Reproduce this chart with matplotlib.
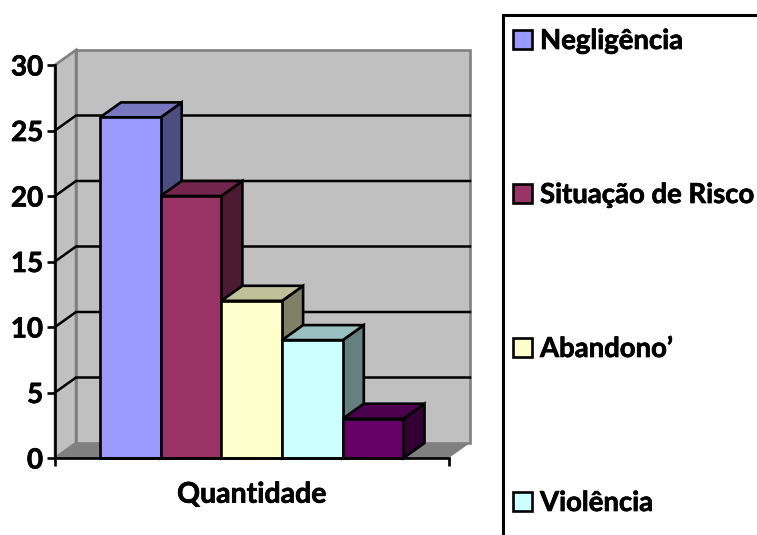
import matplotlib
matplotlib.use("Agg")
import matplotlib.pyplot as plt
import matplotlib.patheffects as pe
from matplotlib.patches import Polygon, Rectangle

series_names = ["Negligência", "Situação de Risco", "Abandono’", "Violência", ""]
values = [26, 20, 12, 9, 3]
front_colors = ["#9999FF", "#993366", "#FFFFCC", "#CCFFFF", "#660066"]
top_colors = ["#7777C0", "#73264D", "#C0C099", "#99C0C0", "#4D004D"]
side_colors = ["#4D4D80", "#4D1A33", "#808066", "#668080", "#330033"]
category = "Quantidade"
y_ticks = [0, 5, 10, 15, 20, 25, 30]
legend_names = series_names[:4]
legend_colors = front_colors[:4]

W, H = 757, 535
plt.rcParams["font.family"] = ["Lato", "DejaVu Sans"]
plt.rcParams["font.weight"] = "bold"
fig = plt.figure(figsize=(W / 100, H / 100), dpi=100, facecolor="white")
heavy = [pe.withStroke(linewidth=0.5, foreground="black")]

L, R, B, T = 55, 449, 458, 65
ax = fig.add_axes([L / W, 1 - B / H, (R - L) / W, (B - T) / H])
bar_w_px = 60.7
x0 = -(100 - L) / bar_w_px
ax.set_xlim(x0, x0 + (R - L) / bar_w_px)
ax.set_ylim(0, 30)
ax.patch.set_visible(False)
for s in ["top", "right"]:
    ax.spines[s].set_visible(False)
for s in ["left", "bottom"]:
    ax.spines[s].set_linewidth(1.9)
    ax.spines[s].set_zorder(8)

ddx = 21 / bar_w_px
ddy = 15 / ((B - T) / 30)
xa, xb = ax.get_xlim()
GRAY = "#808080"
WALL = "#C0C0C0"

def poly(pts, fc, ec="none", lw=0, z=1):
    ax.add_patch(Polygon(pts, closed=True, fc=fc, ec=ec, lw=lw, zorder=z,
                         clip_on=False, joinstyle="miter"))

# walls and floor
poly([(xa + ddx, ddy), (xb + ddx, ddy), (xb + ddx, 30 + ddy), (xa + ddx, 30 + ddy)], WALL, GRAY, 1.9)
poly([(xa, 0), (xa + ddx, ddy), (xa + ddx, 30 + ddy), (xa, 30)], WALL, GRAY, 1.9)
poly([(xa, 0), (xb, 0), (xb + ddx, ddy), (xa + ddx, ddy)], GRAY)

# gridlines
for v in y_ticks[1:-1]:
    ax.plot([xa, xa + ddx, xb + ddx], [v, v + ddy, v + ddy], color="black", lw=1.8,
            clip_on=False, zorder=2, solid_joinstyle="miter")

# 3D bars
for i, (v, f, t, s) in enumerate(zip(values, front_colors, top_colors, side_colors)):
    z = 3 + i * 0.1
    poly([(i + 1, 0), (i + 1 + ddx, ddy), (i + 1 + ddx, v + ddy), (i + 1, v)], s, "black", 1.9, z)
    poly([(i, v), (i + 1, v), (i + 1 + ddx, v + ddy), (i + ddx, v + ddy)], t, "black", 1.9, z)
    ax.bar(i, v, width=1, align="edge", color=f, edgecolor="black", linewidth=1.9,
           zorder=z + 0.05, clip_on=False)

ax.set_yticks(y_ticks)
ax.set_xticks([xa, xb])
ax.set_xticklabels(["", ""])
ax.tick_params(axis="both", length=5.5, width=1.9, color="black")
ax.tick_params(axis="y", labelsize=20, pad=3)
for lab in ax.get_yticklabels():
    lab.set_path_effects(heavy)
ax.text((xa + xb) / 2, -2.8, category, ha="center", va="center", fontsize=20.5,
        fontweight="bold", clip_on=False, path_effects=heavy)

# legend panel in pixel coordinates
lg = fig.add_axes([0, 0, 1, 1], zorder=5)
lg.set_xlim(0, W)
lg.set_ylim(H, 0)
lg.axis("off")
lg.plot([503, 503, W + 5], [H + 5, 15, 15], color="black", lw=2.2, solid_joinstyle="miter")
legend_y = [40, 194, 348, 502]
for name, c, y in zip(legend_names, legend_colors, legend_y):
    lg.add_patch(Rectangle((513, y - 10), 19, 19, fc=c, ec="black", lw=1.9))
    lg.text(540, y + 1, name, va="center", ha="left", fontsize=19.8, fontweight="bold",
            path_effects=heavy)

fig.savefig("out.png", dpi=100)
